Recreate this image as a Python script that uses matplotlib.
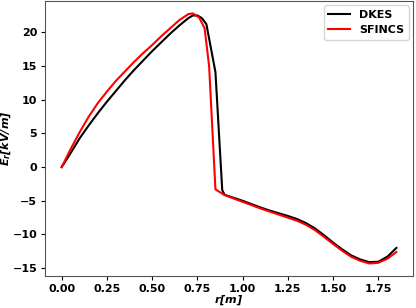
import matplotlib
matplotlib.use('Agg')
import matplotlib.pyplot as plt

# DKES radial electric field
r_dkes = [0.0, 0.05, 0.1, 0.15, 0.2, 0.25, 0.3, 0.35, 0.4, 0.45, 0.5, 0.55, 0.6,
          0.65, 0.7, 0.725, 0.75, 0.775, 0.8, 0.85, 0.8875, 0.9, 0.95, 1.0, 1.05,
          1.1, 1.15, 1.2, 1.25, 1.3, 1.35, 1.4, 1.45, 1.5, 1.55, 1.6, 1.65, 1.7,
          1.75, 1.8, 1.85]
er_dkes = [0.0, 2.1, 4.3, 6.2, 8.0, 9.7, 11.3, 12.9, 14.4, 15.8, 17.2, 18.5, 19.8,
           21.0, 22.1, 22.5, 22.5, 22.1, 21.2, 14.1, -3.4, -4.1, -4.55, -5.0, -5.5,
           -6.0, -6.45, -6.85, -7.25, -7.7, -8.3, -9.1, -10.1, -11.2, -12.2, -13.1,
           -13.7, -14.1, -14.05, -13.3, -12.0]

# SFINCS radial electric field
r_sfincs = [0.0, 0.05, 0.1, 0.15, 0.2, 0.25, 0.3, 0.35, 0.4, 0.45, 0.5, 0.55, 0.6,
            0.65, 0.7, 0.725, 0.76, 0.79, 0.815, 0.85, 0.9, 0.95, 1.0, 1.05, 1.1,
            1.15, 1.2, 1.25, 1.3, 1.35, 1.4, 1.45, 1.5, 1.55, 1.6, 1.65, 1.7, 1.75,
            1.8, 1.85]
er_sfincs = [0.0, 2.7, 5.2, 7.5, 9.5, 11.2, 12.8, 14.2, 15.6, 16.9, 18.1, 19.4, 20.6,
             21.8, 22.7, 22.8, 22.2, 20.6, 15.0, -3.3, -4.15, -4.65, -5.15, -5.65,
             -6.15, -6.6, -7.05, -7.5, -7.95, -8.55, -9.35, -10.35, -11.4, -12.4,
             -13.3, -13.9, -14.3, -14.2, -13.6, -12.6]

fig, ax = plt.subplots(figsize=(4.16, 3.08), dpi=100)
fig.subplots_adjust(left=0.108, right=0.993, bottom=0.104, top=0.997)

ax.plot(r_dkes, er_dkes, color='black', lw=1.5, label='DKES')
ax.plot(r_sfincs, er_sfincs, color='red', lw=1.5, label='SFINCS')

ax.set_xticks([0.0, 0.25, 0.5, 0.75, 1.0, 1.25, 1.5, 1.75])
ax.set_yticks([-15, -10, -5, 0, 5, 10, 15, 20])
ax.tick_params(labelsize=8, width=0.8, length=3, pad=2.5)
for lab in ax.get_xticklabels() + ax.get_yticklabels():
    lab.set_fontweight('bold')
for s in ax.spines.values():
    s.set_color('#555555')

ax.set_xlabel(r'$\mathbfit{r[m]}$', fontsize=8, labelpad=0)
ax.set_ylabel(r'$\mathbfit{E_r[kV/m]}$', fontsize=8, labelpad=0)

leg = ax.legend(loc='upper right', prop={'weight': 'bold', 'size': 8},
                handlelength=2.0, borderaxespad=0.4)

fig.savefig('out.png', dpi=100)
